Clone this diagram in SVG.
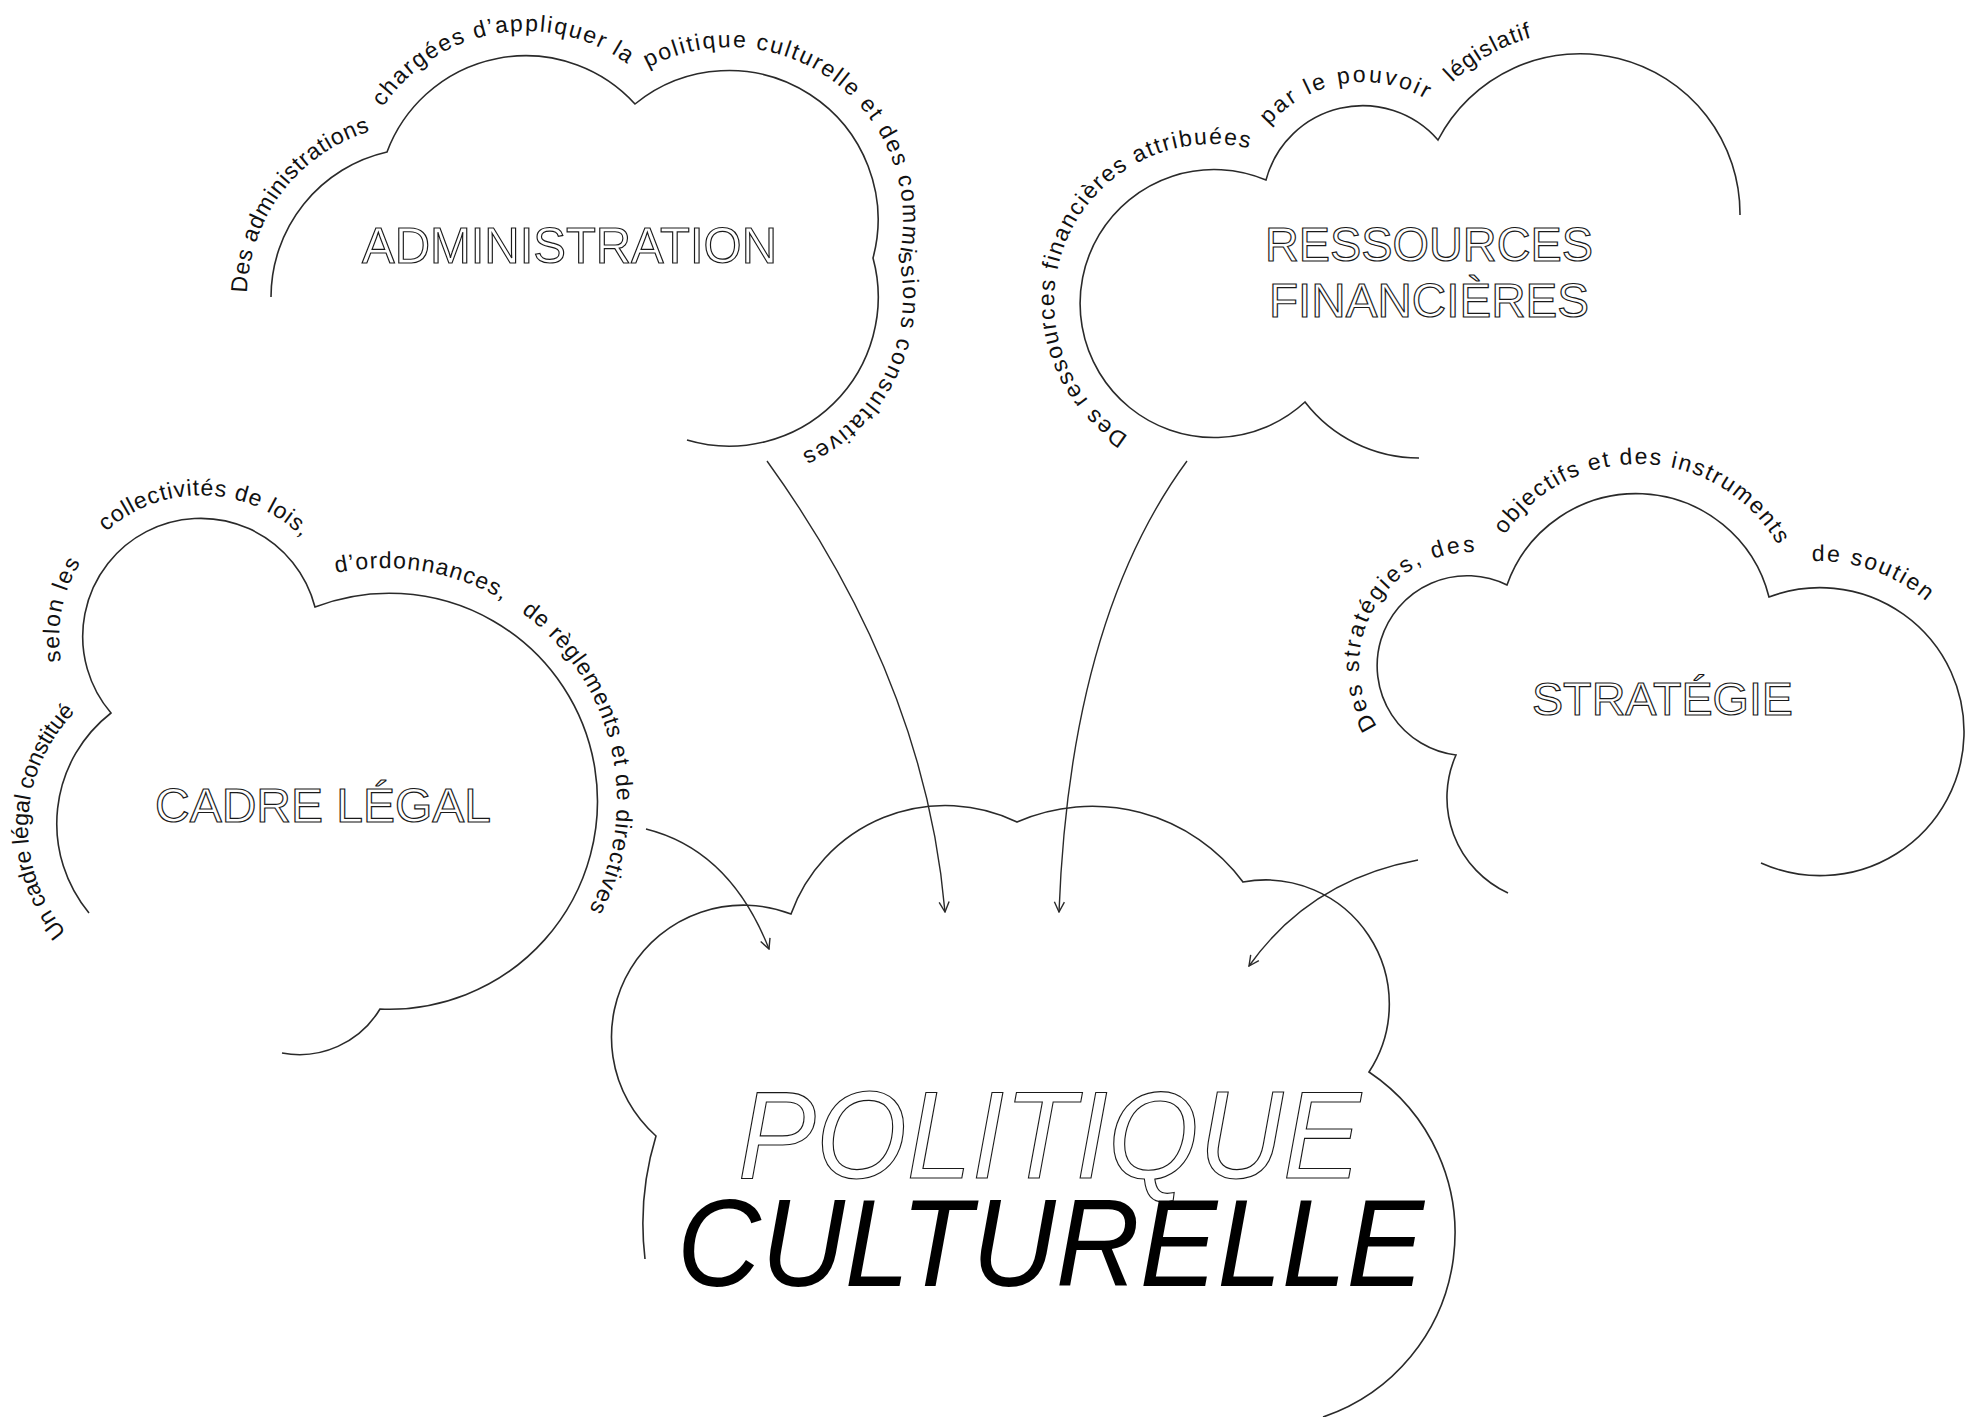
<svg xmlns="http://www.w3.org/2000/svg" xmlns:xlink="http://www.w3.org/1999/xlink" width="1980" height="1417" viewBox="0 0 1980 1417">
<style>
.cloud{fill:none;stroke:#2a2a2a;stroke-width:1.6}
.arc{font-family:"Liberation Sans",Arial,sans-serif;font-size:23px;fill:#111;white-space:pre}
.title{font-family:"Liberation Sans",Arial,sans-serif;fill:#fff;stroke:#1a1a1a;stroke-width:1.2}
.big{font-family:"Liberation Sans",Arial,sans-serif;font-style:italic}
.conn{fill:none;stroke:#2a2a2a;stroke-width:1.4}
</style>
<defs>
<marker id="arr" viewBox="0 0 12 12" refX="11" refY="6" markerWidth="12" markerHeight="12" markerUnits="userSpaceOnUse" orient="auto">
<path d="M1,1 L11,6 L1,11" fill="none" stroke="#2a2a2a" stroke-width="1.4"/>
</marker>
<path id="pAdm" d="M247 297 A173 173 0 0 1 369 131.6 A173 173 0 0 1 639 73 A173 173 0 0 1 898.8 258 A173 173 0 0 1 760 466.4"/>
<path id="pRes" d="M1128.3 436 A158 158 0 0 1 1252.8 149.4 A124 124 0 0 1 1433.3 103.9 A184 184 0 0 1 1612 34"/>
<path id="pCad" d="M66.4 932.4 A164 164 0 0 1 78.4 708.7 A142 142 0 1 1 328.7 574.9 A232 232 0 0 1 575 933"/>
<path id="pStr" d="M1377.2 726.5 A113 113 0 0 1 1493.5 554.1 A161 161 0 0 1 1786.9 563.7 A169 169 0 0 1 1946.5 621.4"/>
</defs>

<g id="administration">
<path class="cloud" d="M271 297 A149 149 0 0 1 387 152 A148 148 0 0 1 635 104 A149 149 0 0 1 873 258 A149 149 0 0 1 687 440"/>
<text class="arc"><textPath href="#pAdm" xlink:href="#pAdm" startOffset="4" textLength="217" lengthAdjust="spacing">Des administrations</textPath></text>
<text class="arc"><textPath href="#pAdm" xlink:href="#pAdm" startOffset="248" textLength="277" lengthAdjust="spacing">chargées d’appliquer la</textPath></text>
<text class="arc"><textPath href="#pAdm" xlink:href="#pAdm" startOffset="550" textLength="631" lengthAdjust="spacing">politique culturelle et des commissions consultatives</textPath></text>
<text class="title" x="362" y="263" font-size="50" textLength="415" lengthAdjust="spacingAndGlyphs">ADMINISTRATION</text>
</g>

<g id="ressources">
<path class="cloud" d="M1419 458 A144 144 0 0 1 1305 402 A134 134 0 1 1 1266 180 A100 100 0 0 1 1438 140 A160 160 0 0 1 1740 215"/>
<text class="arc"><textPath href="#pRes" xlink:href="#pRes" startOffset="0" textLength="445" lengthAdjust="spacing">Des ressources financières attribuées</textPath></text>
<text class="arc"><textPath href="#pRes" xlink:href="#pRes" startOffset="478" textLength="172" lengthAdjust="spacing">par le pouvoir</textPath></text>
<text class="arc"><textPath href="#pRes" xlink:href="#pRes" startOffset="688" textLength="92" lengthAdjust="spacing">législatif</textPath></text>
<text class="title" x="1429" y="261" font-size="48" text-anchor="middle" textLength="328" lengthAdjust="spacingAndGlyphs">RESSOURCES</text>
<text class="title" x="1429" y="317" font-size="48" text-anchor="middle" textLength="320" lengthAdjust="spacingAndGlyphs">FINANCIÈRES</text>
</g>

<g id="cadre">
<path class="cloud" d="M89 913 A140 140 0 0 1 111 713 A118 118 0 1 1 315 607 A208 208 0 1 1 380 1009 A94 94 0 0 1 282 1053"/>
<text class="arc"><textPath href="#pCad" xlink:href="#pCad" startOffset="0" textLength="242" lengthAdjust="spacing">Un cadre légal constitué</textPath></text>
<text class="arc"><textPath href="#pCad" xlink:href="#pCad" startOffset="297" textLength="103" lengthAdjust="spacing">selon les</textPath></text>
<text class="arc"><textPath href="#pCad" xlink:href="#pCad" startOffset="440" textLength="216" lengthAdjust="spacing">collectivités de lois,</textPath></text>
<text class="arc"><textPath href="#pCad" xlink:href="#pCad" startOffset="710" textLength="173" lengthAdjust="spacing">d’ordonnances,</textPath></text>
<text class="arc"><textPath href="#pCad" xlink:href="#pCad" startOffset="905" textLength="333" lengthAdjust="spacing">de règlements et de directives</textPath></text>
<text class="title" x="155" y="822" font-size="48" textLength="336" lengthAdjust="spacingAndGlyphs">CADRE LÉGAL</text>
</g>

<g id="strategie">
<path class="cloud" d="M1508 893 A105 105 0 0 1 1456 755 A90 90 0 1 1 1507 585 A137 137 0 0 1 1769 597 A144 144 0 1 1 1761 863"/>
<text class="arc"><textPath href="#pStr" xlink:href="#pStr" startOffset="0" textLength="245" lengthAdjust="spacing">Des stratégies, des</textPath></text>
<text class="arc"><textPath href="#pStr" xlink:href="#pStr" startOffset="286" textLength="326" lengthAdjust="spacing">objectifs et des instruments</textPath></text>
<text class="arc"><textPath href="#pStr" xlink:href="#pStr" startOffset="658" textLength="124" lengthAdjust="spacing">de soutien</textPath></text>
<text class="title" x="1532" y="715" font-size="47" textLength="261" lengthAdjust="spacingAndGlyphs">STRATÉGIE</text>
</g>

<g id="politique">
<path class="cloud" d="M645 1259 A300 300 0 0 1 656 1136 A132 132 0 0 1 791 914 A164 164 0 0 1 1017 822 A188 188 0 0 1 1243 882 A124 124 0 0 1 1369 1072 A194 194 0 0 1 1323 1417"/>
<text class="big title" x="738" y="1178" font-size="124" textLength="623" lengthAdjust="spacingAndGlyphs" stroke-width="1.8">POLITIQUE</text>
<text class="big" x="677" y="1286" font-size="125" fill="#000" textLength="747" lengthAdjust="spacingAndGlyphs">CULTURELLE</text>
</g>

<g id="connectors">
<path class="conn" d="M646 829 Q730 850 769 949" marker-end="url(#arr)"/>
<path class="conn" d="M767 461 Q925 680 945 912" marker-end="url(#arr)"/>
<path class="conn" d="M1187 461 Q1070 620 1059 912" marker-end="url(#arr)"/>
<path class="conn" d="M1418 860 Q1310 880 1249 966" marker-end="url(#arr)"/>
</g>
</svg>
